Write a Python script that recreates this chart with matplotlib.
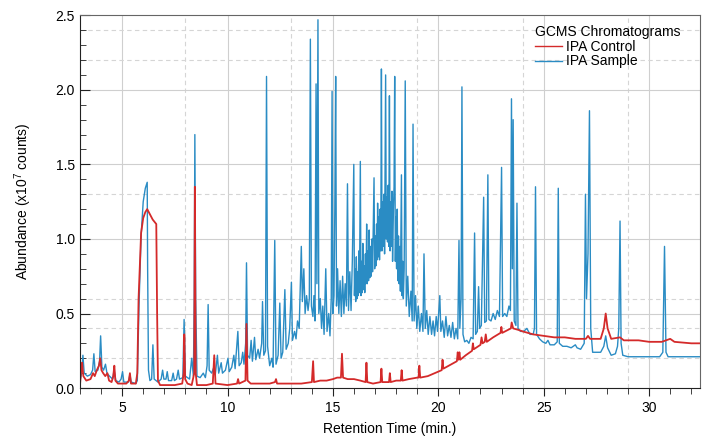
import matplotlib
matplotlib.use("Agg")
import matplotlib.pyplot as plt
from matplotlib.ticker import MultipleLocator

plt.rcParams['font.family'] = ['Liberation Sans', 'DejaVu Sans']
plt.rcParams['mathtext.default'] = 'regular'

# IPA Sample trace (retention time in min, abundance in 1e7 counts)
sample = [
    (3.00, 0.05), (3.08, 0.10), (3.14, 0.22), (3.20, 0.10), (3.35, 0.08), (3.50, 0.09),
    (3.60, 0.12), (3.66, 0.23), (3.72, 0.11), (3.85, 0.12), (3.93, 0.18), (3.98, 0.35),
    (4.04, 0.14), (4.12, 0.12), (4.21, 0.16), (4.28, 0.10), (4.40, 0.08), (4.55, 0.06),
    (4.62, 0.12), (4.70, 0.05), (4.85, 0.04), (4.95, 0.06), (5.02, 0.11), (5.08, 0.04),
    (5.30, 0.04), (5.37, 0.09), (5.43, 0.04), (5.65, 0.03), (5.72, 0.05), (5.80, 0.55),
    (5.90, 1.02), (6.00, 1.25), (6.10, 1.34), (6.19, 1.38), (6.21, 0.80), (6.25, 0.12),
    (6.32, 0.05), (6.40, 0.06), (6.46, 0.29), (6.52, 0.06), (6.70, 0.04), (6.85, 0.06),
    (6.92, 0.12), (6.98, 0.06), (7.08, 0.06), (7.14, 0.11), (7.20, 0.05), (7.35, 0.05),
    (7.42, 0.10), (7.48, 0.05), (7.58, 0.06), (7.66, 0.12), (7.72, 0.06), (7.88, 0.07),
    (7.94, 0.46), (8.00, 0.08), (8.20, 0.06), (8.30, 0.20), (8.38, 0.08), (8.42, 0.60),
    (8.45, 1.70), (8.49, 0.60), (8.55, 0.08), (8.70, 0.07), (8.85, 0.10), (8.95, 0.07),
    (9.03, 0.15), (9.08, 0.56), (9.13, 0.12), (9.25, 0.10), (9.35, 0.14), (9.42, 0.09),
    (9.52, 0.22), (9.58, 0.10), (9.70, 0.17), (9.76, 0.10), (9.90, 0.12), (10.02, 0.20),
    (10.08, 0.11), (10.20, 0.14), (10.30, 0.22), (10.36, 0.13), (10.49, 0.38), (10.55, 0.15),
    (10.65, 0.17), (10.72, 0.24), (10.78, 0.16), (10.86, 0.30), (10.90, 0.84), (10.95, 0.22),
    (11.05, 0.20), (11.12, 0.32), (11.18, 0.18), (11.28, 0.34), (11.34, 0.19), (11.45, 0.26),
    (11.52, 0.20), (11.62, 0.30), (11.66, 0.58), (11.72, 0.22), (11.80, 0.25), (11.85, 2.09),
    (11.90, 0.28), (12.00, 0.15), (12.10, 0.20), (12.16, 0.14), (12.24, 0.99), (12.30, 0.16),
    (12.40, 0.22), (12.48, 0.57), (12.54, 0.20), (12.62, 0.24), (12.72, 0.66), (12.78, 0.26),
    (12.88, 0.30), (12.95, 0.40), (13.03, 0.71), (13.08, 0.32), (13.18, 0.38), (13.25, 0.33),
    (13.32, 0.45), (13.40, 0.40), (13.50, 0.95), (13.55, 0.58), (13.62, 0.80), (13.68, 0.50),
    (13.75, 0.62), (13.82, 0.52), (13.88, 0.60), (13.93, 2.34), (13.98, 0.55), (14.05, 0.48),
    (14.10, 0.62), (14.15, 0.45), (14.20, 2.04), (14.24, 0.70), (14.29, 2.47), (14.33, 0.50),
    (14.40, 0.60), (14.46, 0.40), (14.52, 0.55), (14.58, 0.36), (14.66, 0.80), (14.72, 0.38),
    (14.80, 0.50), (14.86, 0.35), (14.92, 0.60), (14.96, 1.99), (15.00, 0.50), (15.05, 0.62),
    (15.09, 1.20), (15.13, 2.09), (15.17, 0.55), (15.22, 0.80), (15.28, 0.50), (15.34, 0.72),
    (15.40, 0.48), (15.46, 0.75), (15.52, 0.50), (15.58, 0.70), (15.64, 0.55), (15.69, 1.37),
    (15.74, 0.52), (15.80, 0.78), (15.86, 0.52), (15.92, 0.85), (15.99, 1.50), (16.02, 0.62),
    (16.05, 0.80), (16.08, 0.58), (16.11, 0.88), (16.14, 0.60), (16.17, 0.78), (16.20, 0.62),
    (16.23, 0.92), (16.26, 0.64), (16.30, 1.52), (16.33, 0.62), (16.36, 0.85), (16.39, 0.64),
    (16.42, 0.97), (16.45, 0.66), (16.48, 0.82), (16.51, 0.64), (16.54, 0.90), (16.57, 0.70),
    (16.60, 1.10), (16.63, 0.70), (16.66, 0.92), (16.69, 0.72), (16.72, 1.06), (16.75, 0.74),
    (16.78, 0.95), (16.81, 0.75), (16.85, 1.00), (16.88, 0.78), (16.91, 1.05), (16.95, 1.41),
    (16.98, 0.80), (17.01, 1.02), (17.04, 0.82), (17.07, 1.10), (17.10, 0.86), (17.12, 1.24),
    (17.15, 0.88), (17.18, 1.15), (17.21, 0.86), (17.24, 1.20), (17.27, 0.92), (17.30, 2.14),
    (17.33, 0.92), (17.36, 1.25), (17.39, 0.95), (17.42, 1.30), (17.45, 0.90), (17.50, 2.10),
    (17.53, 1.00), (17.56, 1.28), (17.59, 0.98), (17.62, 1.36), (17.65, 0.95), (17.68, 1.96),
    (17.71, 0.92), (17.74, 1.25), (17.77, 0.95), (17.80, 1.32), (17.83, 0.85), (17.87, 1.20),
    (17.90, 1.35), (17.93, 2.09), (17.96, 0.85), (17.99, 1.15), (18.02, 0.80), (18.05, 1.20),
    (18.08, 0.72), (18.11, 1.02), (18.14, 0.70), (18.17, 0.95), (18.20, 0.65), (18.25, 1.43),
    (18.28, 0.62), (18.31, 0.85), (18.34, 0.60), (18.38, 0.80), (18.43, 2.06), (18.48, 0.55),
    (18.55, 0.75), (18.62, 0.48), (18.70, 0.65), (18.76, 0.45), (18.80, 1.77), (18.85, 0.45),
    (18.92, 0.62), (18.98, 0.40), (19.05, 0.55), (19.12, 0.38), (19.20, 0.50), (19.27, 0.38),
    (19.32, 0.90), (19.38, 0.40), (19.45, 0.52), (19.52, 0.36), (19.60, 0.48), (19.68, 0.36),
    (19.75, 0.45), (19.82, 0.35), (19.90, 0.48), (19.96, 0.38), (20.07, 0.62), (20.12, 0.38),
    (20.20, 0.45), (20.28, 0.34), (20.36, 0.48), (20.44, 0.35), (20.52, 0.42), (20.60, 0.34),
    (20.68, 0.44), (20.76, 0.33), (20.84, 0.40), (20.92, 0.33), (20.98, 0.99), (21.02, 0.40),
    (21.08, 0.60), (21.12, 2.02), (21.17, 0.36), (21.25, 0.31), (21.35, 0.32), (21.45, 0.30),
    (21.55, 0.34), (21.65, 0.33), (21.72, 1.04), (21.77, 0.36), (21.85, 0.38), (21.91, 0.68),
    (21.96, 0.40), (22.04, 0.42), (22.15, 1.28), (22.20, 0.44), (22.28, 0.45), (22.35, 1.43),
    (22.40, 0.46), (22.50, 0.45), (22.60, 0.50), (22.70, 0.46), (22.80, 0.52), (22.90, 0.48),
    (23.00, 1.48), (23.05, 0.48), (23.15, 0.50), (23.25, 0.48), (23.35, 0.55), (23.42, 0.52),
    (23.47, 1.94), (23.51, 0.80), (23.55, 1.80), (23.60, 0.45), (23.68, 0.42), (23.73, 1.24),
    (23.78, 0.40), (23.90, 0.38), (24.05, 0.38), (24.20, 0.40), (24.35, 0.36), (24.50, 0.36),
    (24.56, 0.40), (24.61, 1.35), (24.66, 0.36), (24.80, 0.33), (24.95, 0.31), (25.10, 0.30),
    (25.20, 0.32), (25.30, 0.29), (25.50, 0.29), (25.64, 0.31), (25.69, 1.34), (25.74, 0.30),
    (25.90, 0.28), (26.10, 0.28), (26.30, 0.27), (26.50, 0.29), (26.58, 0.27), (26.75, 0.26),
    (26.92, 0.30), (26.98, 1.30), (27.03, 0.60), (27.10, 0.90), (27.17, 1.86), (27.23, 0.40),
    (27.32, 0.24), (27.50, 0.24), (27.70, 0.24), (27.85, 0.28), (27.94, 0.35), (28.03, 0.27),
    (28.20, 0.22), (28.40, 0.23), (28.50, 0.28), (28.56, 0.40), (28.62, 1.12), (28.67, 0.30),
    (28.75, 0.22), (29.00, 0.21), (29.50, 0.21), (30.00, 0.21), (30.50, 0.21), (30.65, 0.24),
    (30.73, 0.95), (30.80, 0.24), (30.90, 0.21), (31.50, 0.21), (32.00, 0.21), (32.40, 0.21),
]

# IPA Control trace
control = [
    (3.00, 0.02), (3.06, 0.12), (3.10, 0.17), (3.16, 0.08), (3.30, 0.05), (3.50, 0.06),
    (3.62, 0.10), (3.70, 0.08), (3.80, 0.12), (3.90, 0.15), (3.96, 0.20), (4.02, 0.12),
    (4.10, 0.10), (4.20, 0.08), (4.30, 0.10), (4.38, 0.05), (4.50, 0.04), (4.58, 0.08),
    (4.63, 0.15), (4.68, 0.05), (4.80, 0.03), (5.00, 0.03), (5.20, 0.03), (5.32, 0.05),
    (5.37, 0.10), (5.42, 0.03), (5.65, 0.03), (5.72, 0.10), (5.78, 0.60), (5.90, 1.04),
    (6.00, 1.14), (6.10, 1.18), (6.19, 1.20), (6.30, 1.17), (6.45, 1.13), (6.62, 1.10),
    (6.66, 0.50), (6.70, 0.05), (6.80, 0.02), (7.50, 0.02), (7.85, 0.03), (7.92, 0.10),
    (7.95, 0.36), (7.99, 0.06), (8.10, 0.03), (8.30, 0.02), (8.42, 0.10), (8.45, 1.35),
    (8.49, 0.10), (8.55, 0.02), (9.00, 0.02), (9.30, 0.03), (9.37, 0.22), (9.43, 0.03),
    (10.00, 0.02), (10.45, 0.03), (10.50, 0.06), (10.55, 0.03), (10.85, 0.05), (10.90, 0.43),
    (10.95, 0.05), (11.10, 0.03), (12.00, 0.03), (12.25, 0.04), (12.30, 0.06), (12.35, 0.03),
    (13.00, 0.03), (13.50, 0.03), (14.00, 0.04), (14.06, 0.18), (14.10, 0.04), (14.40, 0.05),
    (14.70, 0.05), (15.00, 0.06), (15.20, 0.07), (15.38, 0.07), (15.43, 0.23), (15.48, 0.07),
    (15.70, 0.06), (16.00, 0.06), (16.30, 0.05), (16.55, 0.04), (16.59, 0.17), (16.63, 0.04),
    (16.90, 0.03), (17.26, 0.04), (17.30, 0.13), (17.34, 0.04), (17.66, 0.04), (17.70, 0.10),
    (17.74, 0.04), (18.00, 0.05), (18.22, 0.05), (18.26, 0.12), (18.30, 0.05), (18.60, 0.06),
    (19.00, 0.07), (19.06, 0.07), (19.10, 0.15), (19.14, 0.07), (19.50, 0.08), (20.00, 0.11),
    (20.16, 0.12), (20.20, 0.19), (20.24, 0.13), (20.50, 0.15), (20.88, 0.18), (20.92, 0.24),
    (20.96, 0.19), (21.00, 0.24), (21.04, 0.19), (21.30, 0.22), (21.60, 0.25), (21.64, 0.30),
    (21.68, 0.26), (22.00, 0.29), (22.05, 0.34), (22.10, 0.30), (22.20, 0.31), (22.25, 0.36),
    (22.30, 0.31), (22.60, 0.34), (22.95, 0.37), (22.99, 0.41), (23.03, 0.37), (23.30, 0.39),
    (23.44, 0.40), (23.48, 0.44), (23.55, 0.40), (23.80, 0.39), (24.00, 0.38), (24.50, 0.36),
    (25.00, 0.35), (25.50, 0.34), (26.00, 0.34), (26.50, 0.33), (27.00, 0.33), (27.10, 0.35),
    (27.20, 0.33), (27.70, 0.33), (27.85, 0.40), (27.94, 0.50), (28.03, 0.40), (28.20, 0.33),
    (28.62, 0.34), (28.80, 0.32), (29.50, 0.32), (30.00, 0.31), (30.60, 0.31), (31.00, 0.33),
    (31.20, 0.31), (32.00, 0.30), (32.40, 0.30),
]

sample_t, sample_v = zip(*sample)
control_t, control_v = zip(*control)

# grid positions seen in the figure
solid_x = [5, 10, 15, 20, 25, 30]
dashed_x = [8, 13, 19, 24, 29]
solid_y = [0.5, 1.0, 1.5, 2.0]
dashed_y = [0.2, 0.4, 0.6, 1.3, 2.2, 2.4]

fig = plt.figure(figsize=(7.14, 4.37), dpi=100)
ax = fig.add_axes([0.112, 0.112, 0.868, 0.853])

for x in solid_x:
    ax.axvline(x, color='#cfcfcf', lw=0.8, zorder=0)
for x in dashed_x:
    ax.axvline(x, color='#d5d5d5', lw=0.8, ls=(0, (4, 3)), zorder=0)
for y in solid_y:
    ax.axhline(y, color='#cfcfcf', lw=0.8, zorder=0)
for y in dashed_y:
    ax.axhline(y, color='#d5d5d5', lw=0.8, ls=(0, (4, 3)), zorder=0)

l_s, = ax.plot(sample_t, sample_v, color='#2a8cc4', lw=1.0, label='IPA Sample')
l_c, = ax.plot(control_t, control_v, color='#d42a2a', lw=1.3, label='IPA Control')

ax.set_xlim(3, 32.4)
ax.set_ylim(0, 2.5)
ax.xaxis.set_major_locator(MultipleLocator(5))
ax.xaxis.set_minor_locator(MultipleLocator(1))
ax.yaxis.set_major_locator(MultipleLocator(0.5))
ax.yaxis.set_minor_locator(MultipleLocator(0.1))
ax.yaxis.set_major_formatter(plt.FuncFormatter(lambda v, p: f'{v:.1f}'))
ax.tick_params(axis='x', which='major', direction='out', length=6, labelsize=10, color='#222')
ax.tick_params(axis='x', which='minor', direction='out', length=4, color='#222')
ax.tick_params(axis='y', which='major', direction='in', length=7, labelsize=10, color='#222')
ax.tick_params(axis='y', which='minor', direction='in', length=4, color='#222')

for s in ['top', 'right']:
    ax.spines[s].set_color('#666666')
for s in ['left', 'bottom']:
    ax.spines[s].set_color('#222222')

ax.set_xlabel('Retention Time (min.)', fontsize=10, labelpad=5)
ax.set_ylabel('Abundance (x10$^{7}$ counts)', fontsize=10, labelpad=16)

leg = ax.legend(handles=[l_c, l_s], title='GCMS Chromatograms', loc='upper right',
                bbox_to_anchor=(0.985, 1.0), frameon=False, fontsize=10,
                title_fontsize=10, handlelength=1.9, handletextpad=0.3,
                labelspacing=0.05, borderpad=0.2, alignment='left')
for h in leg.get_lines():
    h.set_linewidth(1.0)

fig.savefig('out.png', dpi=100)
